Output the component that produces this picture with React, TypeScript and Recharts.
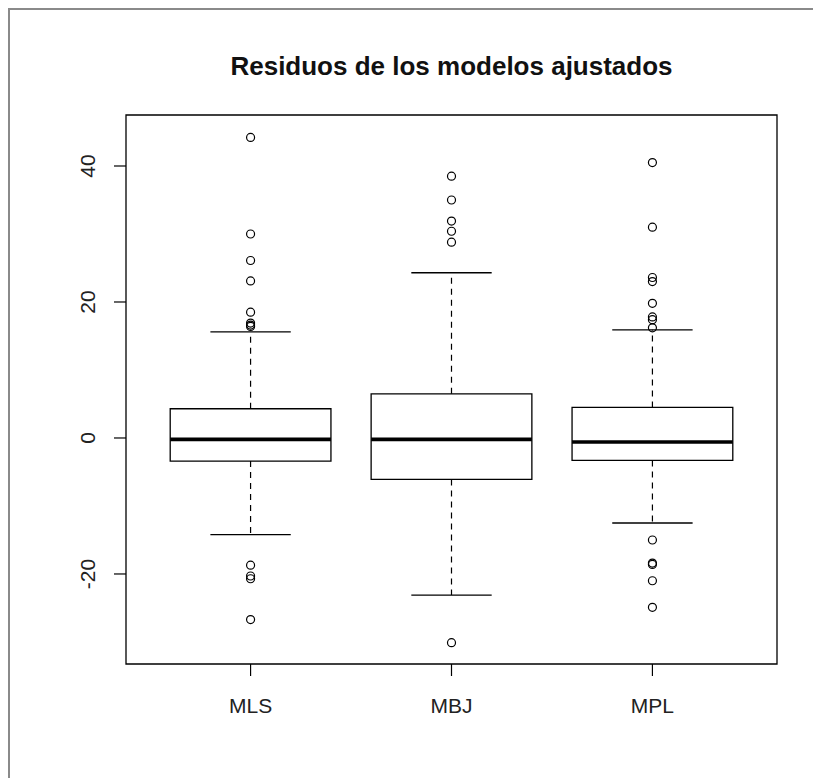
import React from "react"
import {
  ComposedChart,
  XAxis,
  YAxis,
  Scatter,
  ReferenceArea,
  ReferenceLine,
} from "recharts"

// five-number summaries of the residuals for each fitted model
const models = ["MLS", "MBJ", "MPL"]
const lowerWhisker = [-14.2, -23.1, -12.5]
const q1 = [-3.4, -6.1, -3.3]
const median = [-0.2, -0.2, -0.6]
const q3 = [4.3, 6.5, 4.5]
const upperWhisker = [15.6, 24.3, 15.9]

// points beyond the whiskers
const outliersMLS = [44.2, 30.0, 26.1, 23.1, 18.5, 16.9, 16.6, 16.4, -18.7, -20.3, -20.7, -26.7]
const outliersMBJ = [38.5, 35.0, 31.9, 30.4, 28.8, -30.1]
const outliersMPL = [40.5, 31.0, 23.6, 23.0, 19.8, 17.8, 17.4, 16.2, -15.0, -18.4, -18.6, -21.0, -24.9]

const yTicks = [-20, 0, 20, 40]
const xDomain: [number, number] = [0.38, 3.62]
const yDomain: [number, number] = [-33.24, 47.5]

const FONT = '"Liberation Sans", Arial, sans-serif'
const INK = "#000"

const outlierPoints = [outliersMLS, outliersMBJ, outliersMPL].flatMap((vals, i) =>
  vals.map((v) => ({ x: i + 1, y: v }))
)

const OpenCircle = (props: any) => {
  const { cx, cy } = props
  return <circle cx={cx} cy={cy} r={4} fill="none" stroke={INK} strokeWidth={1.2} />
}

const YTick = (props: any) => {
  const { y, payload } = props
  const x = 85
  return (
    <text
      x={x}
      y={y}
      transform={`rotate(-90, ${x}, ${y})`}
      textAnchor="middle"
      fontFamily={FONT}
      fontSize={21}
      fill="#222"
    >
      {payload.value}
    </text>
  )
}

const XTick = (props: any) => {
  const { x, payload } = props
  return (
    <text x={x} y={703} textAnchor="middle" fontFamily={FONT} fontSize={21} fill="#222">
      {models[payload.value - 1]}
    </text>
  )
}

export default function App() {
  return (
    <div
      style={{
        position: "fixed",
        left: 8,
        top: 8,
        width: 805,
        height: 770,
        borderTop: "2px solid #8a8a8a",
        borderLeft: "2px solid #8a8a8a",
        boxSizing: "border-box",
        background: "#fff",
        overflow: "hidden",
      }}
    >
      <div
        style={{
          position: "absolute",
          left: 141.5,
          width: 600,
          top: 41,
          lineHeight: "30px",
          textAlign: "center",
          fontFamily: FONT,
          fontWeight: "bold",
          fontSize: 26,
          color: "#111",
        }}
      >
        Residuos de los modelos ajustados
      </div>
      <div style={{ position: "absolute", left: 0, top: 0 }}>
        <ComposedChart
          width={803}
          height={768}
          margin={{ top: 105, right: 36, bottom: 54, left: 0 }}
        >
          <XAxis
            dataKey="x"
            type="number"
            domain={xDomain}
            allowDataOverflow
            ticks={[1, 2, 3]}
            tick={<XTick />}
            tickSize={12}
            tickLine={{ stroke: INK, strokeWidth: 1.2 }}
            axisLine={false}
            height={60}
          />
          <YAxis
            dataKey="y"
            type="number"
            domain={yDomain}
            allowDataOverflow
            ticks={yTicks}
            tick={<YTick />}
            tickSize={12}
            tickLine={{ stroke: INK, strokeWidth: 1.2 }}
            axisLine={false}
            width={116}
          />

          {/* plot frame */}
          <ReferenceArea
            x1={xDomain[0]}
            x2={xDomain[1]}
            y1={yDomain[0]}
            y2={yDomain[1]}
            fill="none"
            stroke={INK}
            strokeWidth={1.3}
            ifOverflow="visible"
          />

          {models.map((m, i) => {
            const c = i + 1
            return (
              <React.Fragment key={m}>
                <ReferenceLine
                  segment={[{ x: c, y: q3[i] }, { x: c, y: upperWhisker[i] }]}
                  stroke={INK}
                  strokeWidth={1.2}
                  strokeDasharray="6 5"
                />
                <ReferenceLine
                  segment={[{ x: c, y: q1[i] }, { x: c, y: lowerWhisker[i] }]}
                  stroke={INK}
                  strokeWidth={1.2}
                  strokeDasharray="6 5"
                />
                <ReferenceLine
                  segment={[{ x: c - 0.2, y: upperWhisker[i] }, { x: c + 0.2, y: upperWhisker[i] }]}
                  stroke={INK}
                  strokeWidth={1.3}
                />
                <ReferenceLine
                  segment={[{ x: c - 0.2, y: lowerWhisker[i] }, { x: c + 0.2, y: lowerWhisker[i] }]}
                  stroke={INK}
                  strokeWidth={1.3}
                />
                <ReferenceArea
                  x1={c - 0.4}
                  x2={c + 0.4}
                  y1={q1[i]}
                  y2={q3[i]}
                  fill="#fff"
                  fillOpacity={1}
                  stroke={INK}
                  strokeWidth={1.3}
                />
                <ReferenceLine
                  segment={[{ x: c - 0.4, y: median[i] }, { x: c + 0.4, y: median[i] }]}
                  stroke={INK}
                  strokeWidth={3.6}
                />
              </React.Fragment>
            )
          })}

          <Scatter data={outlierPoints} shape={<OpenCircle />} isAnimationActive={false} />
        </ComposedChart>
      </div>
    </div>
  )
}
